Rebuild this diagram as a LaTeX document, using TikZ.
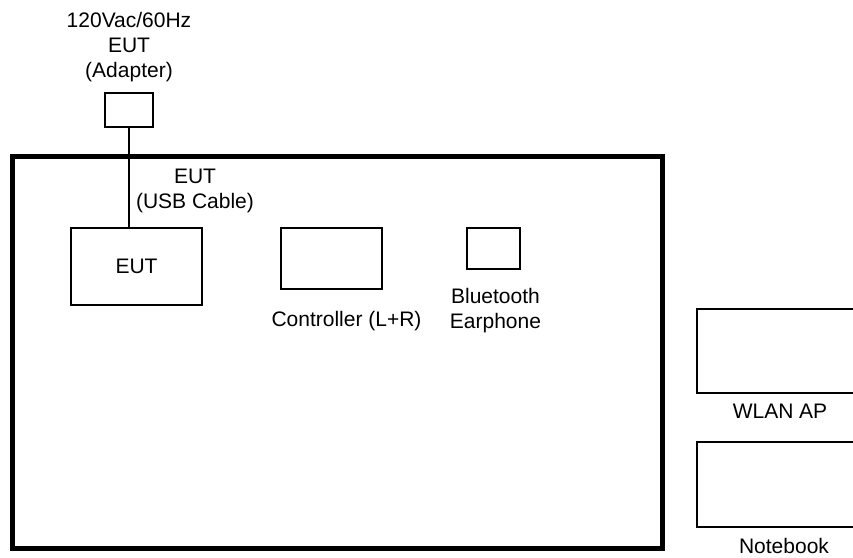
\documentclass[tikz,border=0pt]{standalone}
\usepackage{fontspec}
\setmainfont{Liberation Sans}
\usetikzlibrary{positioning}

\begin{document}
\begin{tikzpicture}[
			x=1pt, y=-1pt,
			font=\fontsize{21}{25}\selectfont,
			box/.style={draw, rectangle, line width=1.5pt, inner sep=0pt},
			tag/.style={inner sep=0pt, align=center},
			frame/.style={draw, line width=5pt}
			]
			\clip (0,0) rectangle (853,557);
			% --- Stol pomiarowy ---
			\draw[frame] (12.5,156.5) rectangle (662,548);
			
			% --- Urzadzenia ---
			\node[box, minimum width=48pt, minimum height=34pt] (adapter) at (129,110) {}; % Zasilacz
			\node[box, minimum width=131pt, minimum height=77pt] (eut) at (136.5,266.5) {EUT}; % Badane urzadzenie
			\node[box, minimum width=101pt, minimum height=61pt] (ctrl) at (331.5,258.5) {}; % Kontroler
			\node[box, minimum width=53pt, minimum height=41pt] (earphone) at (493.5,248.5) {}; % Sluchawka
			\node[box, minimum width=166pt, minimum height=84pt] (wlan) at (780,351) {}; % Punkt dostepowy
			\node[box, minimum width=166pt, minimum height=85pt] (notebook) at (780,484.5) {}; % Notebook
			
			% --- Opisy ---
			\node[tag, above=10pt of adapter] (adaptertext) {120Vac/60Hz\\EUT\\(Adapter)};
			\node[tag] (usbtext) at (195,191) {EUT\\(USB Cable)};
			\node[tag, below=21pt of ctrl, xshift=15pt] (ctrltext) {Controller (L+R)};
			\node[tag, below=18pt of earphone, xshift=2pt] (earphonetext) {Bluetooth\\Earphone};
			\node[tag, below=10pt of wlan] (wlantext) {WLAN AP};
			\node[tag, below=10pt of notebook, xshift=4pt] (notebooktext) {Notebook};
			
			% --- Kabel USB ---
			\draw[line width=1.5pt] (adapter.south) -- (adapter.south |- eut.north);
			
		\end{tikzpicture}
\end{document}
